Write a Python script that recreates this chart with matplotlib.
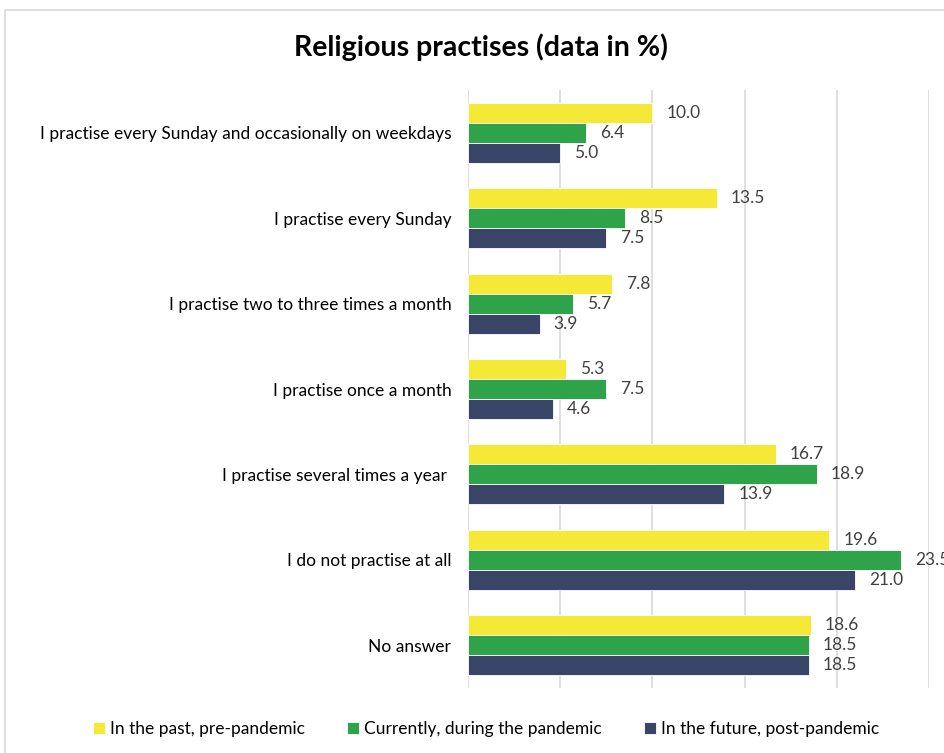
import matplotlib
matplotlib.use("Agg")
import matplotlib.pyplot as plt
from matplotlib.patches import Rectangle
import numpy as np

plt.rcParams['font.family'] = ['Lato', 'DejaVu Sans']

categories = [
    "I practise every Sunday and occasionally on weekdays",
    "I practise every Sunday",
    "I practise two to three times a month",
    "I practise once a month",
    "I practise several times a year ",
    "I do not practise at all",
    "No answer",
]
series_names = ["In the past, pre-pandemic", "Currently, during the pandemic", "In the future, post-pandemic"]
past = [10.0, 13.5, 7.8, 5.3, 16.7, 19.6, 18.6]
current = [6.4, 8.5, 5.7, 7.5, 18.9, 23.5, 18.5]
future = [5.0, 7.5, 3.9, 4.6, 13.9, 21.0, 18.5]
colors = ["#F5E836", "#2EA34A", "#3A4466"]

W, H = 944, 753
fig = plt.figure(figsize=(W / 100, H / 100), dpi=100)
ax = fig.add_axes([468 / W, 1 - 688 / H, (929 - 468) / W, (688 - 90) / H])

n = len(categories)
y = np.arange(n)
bh = 0.234
for i, (vals, col, name) in enumerate(zip([past, current, future], colors, series_names)):
    pos = y + (i - 1) * bh
    ax.barh(pos, vals, height=bh, color=col, label=name, edgecolor='white', linewidth=0.6, zorder=3)
    for p, v in zip(pos, vals):
        ax.annotate(f"{v:.1f}", (v, p), xytext=(10, 0), textcoords='offset points',
                    va='center', ha='left', fontsize=12.5, color='#404040', annotation_clip=False)

ax.set_ylim(n - 0.5, -0.5)
ax.set_xlim(0, 25)
ax.set_xticks([0, 5, 10, 15, 20, 25])
ax.xaxis.grid(True, color='#D9D9D9', linewidth=1.2, zorder=0)
ax.tick_params(axis='x', length=0, labelbottom=False)
ax.tick_params(axis='y', length=0, pad=12, labelsize=12.5, labelcolor='#000000')
ax.set_yticks(y)
ax.set_yticklabels(categories)
for s in ax.spines.values():
    s.set_visible(False)

fig.text(481 / W, 1 - 47 / H, "Religious practises (data in %)", ha='center', va='center',
         fontsize=20.5, fontweight='bold', color='#000000')

leg = fig.legend(loc='center', bbox_to_anchor=(486 / W, 1 - 729 / H), ncol=3, frameon=False,
                 fontsize=12.5, handlelength=0.7, handleheight=0.7, handletextpad=0.3,
                 columnspacing=2.4)

fig.patches.append(Rectangle((5 / W, -0.05), 1.2, 1 - 10 / H + 0.05, transform=fig.transFigure,
                             fill=False, edgecolor='#D9D9D9', linewidth=1.2, zorder=-1))

fig.savefig("out.png", dpi=100, facecolor='white')
